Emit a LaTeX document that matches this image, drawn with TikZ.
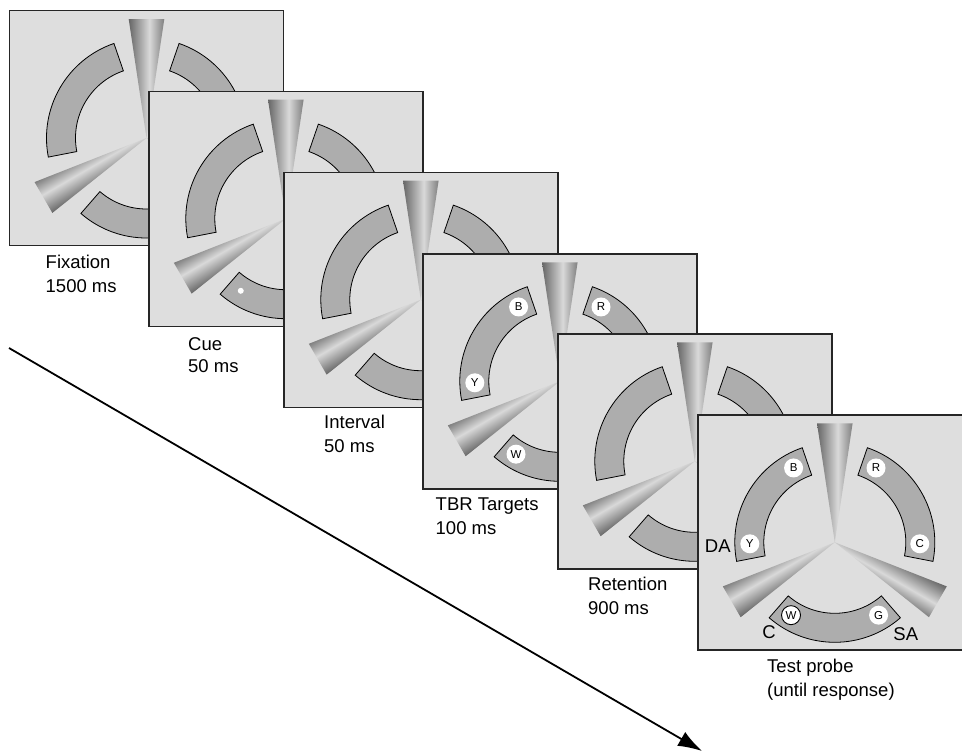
\documentclass[tikz,border=0pt]{standalone}
\usepackage{fontspec}
\setmainfont{Liberation Sans}
\usepackage{tikz}
\usetikzlibrary{arrows.meta}

\definecolor{panelgray}{gray}{0.87}
\definecolor{bandgray}{gray}{0.68}
\definecolor{wedgedark}{gray}{0.40}
\definecolor{wedgelight}{gray}{0.85}
\definecolor{wedgemid}{gray}{0.50}
\pgfdeclarehorizontalshading{wedgeshade}{100bp}{color(0bp)=(wedgedark); color(25bp)=(wedgedark); color(54bp)=(wedgelight); color(75bp)=(wedgemid); color(100bp)=(wedgemid)}

% three wedges and three bands round a centre
\newcommand\stimulus[3]{%
  \foreach \a in {90,210,330} {
    \begin{scope}[transform canvas={shift={(#2,#3)}, rotate=\a-90}]
      \shade[shading=wedgeshade] (0,0) -- (-17.8,-119) -- (17.8,-119) -- cycle;
    \end{scope}
  }
  \begin{scope}[shift={(#2,#3)}, y=1pt]
    \coordinate (#1) at (0,0);
    \foreach \a in {109,229,349}
      \draw[band] (\a:71) -- (\a:100) arc[start angle=\a, end angle=\a+82, radius=100]
        -- ({\a+82}:71) arc[start angle=\a+82, end angle=\a, radius=71] -- cycle;
  \end{scope}}

\begin{document}
\begin{tikzpicture}[x=1pt, y=-1pt,
    panel/.style={draw=black!85, line width=1.2pt, fill=panelgray, anchor=north west,
      inner sep=0pt, minimum width=274pt, minimum height=235pt},
    band/.style={draw=black, line width=0.8pt, fill=bandgray},
    letter/.style={circle, fill=white, inner sep=0pt, minimum size=19pt, font=\fontsize{11.5}{12}\selectfont},
    probe/.style={letter, draw=black, line width=0.9pt},
    cuedot/.style={circle, fill=white, inner sep=0pt, minimum size=6pt},
    caption/.style={anchor=base west, inner sep=0pt, font=\fontsize{18.5}{24}\selectfont},
    tag/.style={inner sep=0pt, font=\fontsize{18.5}{24}\selectfont},
    timeline/.style={line width=1.8pt, -{Latex[length=24pt, width=16pt]}}]
\useasboundingbox (0,0) rectangle (962,753);
\clip (0,0) rectangle (962,753);

\coordinate (tstart) at (9,348);
\coordinate (tend) at (702,751);
\draw[timeline] (tstart) -- (tend);

% fixation
\node[panel] (fix) at (9,10) {};
\stimulus{fixc}{146.5}{138}
\node[caption] (fixa) at (45.5,268) {Fixation};
\node[caption] (fixb) at (45.5,292) {1500 ms};

% cue
\node[panel] (cue) at (148.3,90.7) {};
\stimulus{cuec}{285.8}{218.7}
\begin{scope}[shift={(285.8,218.7)}, y=1pt]
  \node[cuedot] (cuepoint) at (238:85) {};
\end{scope}
\node[caption] (cuea) at (188,350) {Cue};
\node[caption] (cueb) at (188,372.7) {50 ms};

% interval
\node[panel] (ivl) at (283.3,171.7) {};
\stimulus{ivlc}{420.8}{299.7}
\node[caption] (ivla) at (324,428.3) {Interval};
\node[caption] (ivlb) at (324,452.3) {50 ms};

% targets
\node[panel] (tbr) at (422.3,253.3) {};
\stimulus{tbrc}{559.8}{381.3}
\begin{scope}[shift={(559.8,381.3)}, y=1pt]
  \node[letter] (tbrB) at (119:85) {B};
  \node[letter] (tbrY) at (181:85) {Y};
  \node[letter] (tbrR) at (61:85) {R};
  \node[letter] (tbrW) at (239:85) {W};
\end{scope}
\node[caption] (tbra) at (435.5,510.5) {TBR Targets};
\node[caption] (tbrb) at (435.5,534.5) {100 ms};

% retention
\node[panel] (ret) at (557.3,333.3) {};
\stimulus{retc}{694.8}{461.3}
\node[caption] (reta) at (588,590.7) {Retention};
\node[caption] (retb) at (588,614) {900 ms};

% test probe
\node[panel] (tp) at (697.3,414.3) {};
\stimulus{tpc}{834.8}{542.3}
\begin{scope}[shift={(834.8,542.3)}, y=1pt]
  \node[letter] (tpB) at (119:85) {B};
  \node[letter] (tpY) at (181:85) {Y};
  \node[letter] (tpR) at (61:85) {R};
  \node[letter] (tpC) at (359:85) {C};
  \node[probe] (tpW) at (239:85) {W};
  \node[letter] (tpG) at (301:85) {G};
  \node[tag] (tpDA) at (-117,-3.7) {DA};
  \node[tag] (tpCA) at (-65.7,-90.3) {C};
  \node[tag] (tpSA) at (71,-92) {SA};
\end{scope}
\node[caption] (tpa) at (767,672.7) {Test probe};
\node[caption] (tpb) at (767,696.7) {(until response)};
\end{tikzpicture}
\end{document}
